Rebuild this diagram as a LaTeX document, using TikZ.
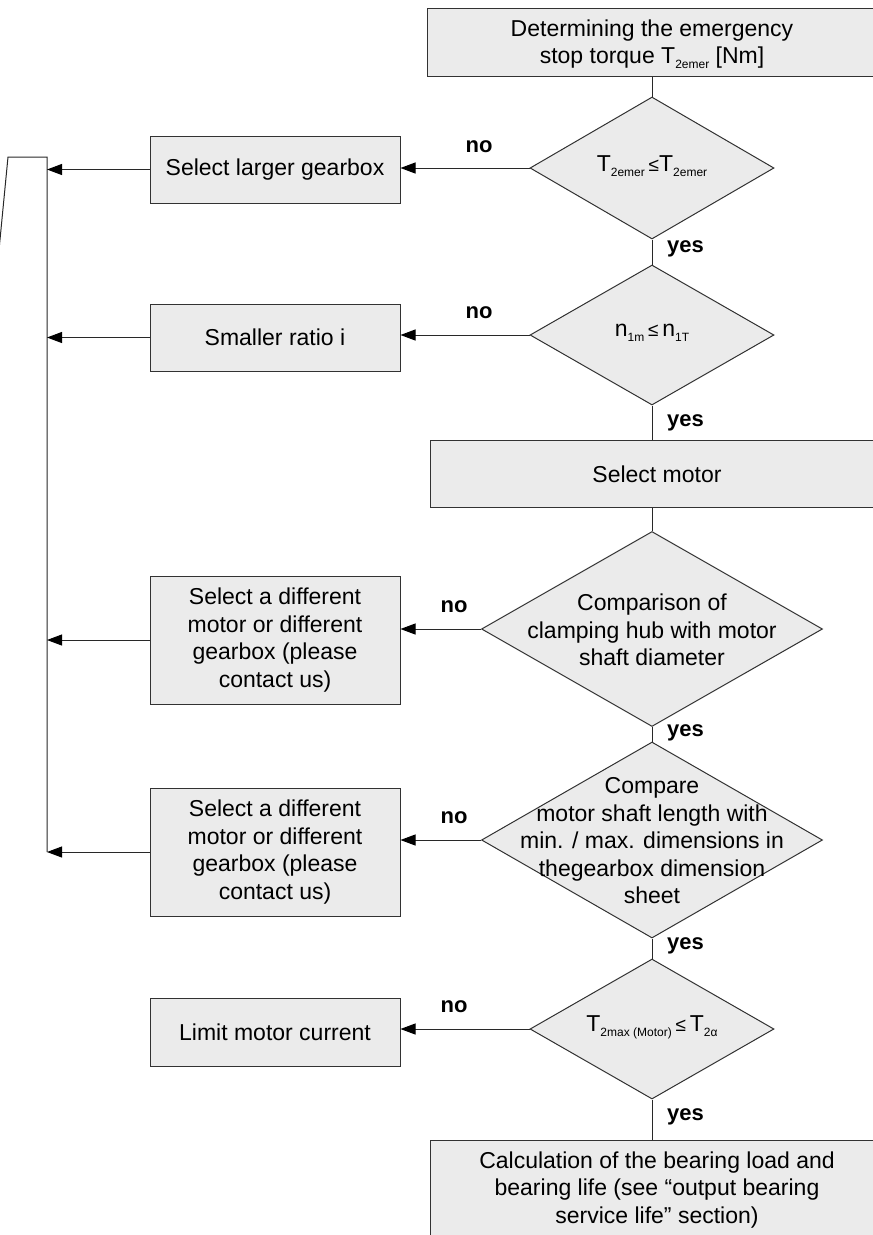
\documentclass[tikz,border=0pt]{standalone}
\usepackage{fontspec}
\setmainfont{Liberation Sans}
\usetikzlibrary{shapes.geometric,arrows.meta}
\definecolor{boxfill}{RGB}{235,235,235}
\definecolor{boxc}{RGB}{50,50,50}
\definecolor{linec}{RGB}{40,40,40}
\newcommand{\txtf}{\fontsize{23}{27.5}\selectfont}
\newcommand{\lblf}{\fontsize{22}{26}\selectfont\bfseries}
\newcommand{\sbs}[1]{\raisebox{-5pt}{\fontsize{12}{12}\selectfont #1}}
\newcommand{\leqs}{{\fontsize{19}{19}\selectfont ≤}}
\begin{document}
\begin{tikzpicture}[x=1pt,y=-1pt,
  conn/.style={draw=linec, line width=1pt},
  arr/.style={conn, -{Triangle[length=15pt,width=11pt,color=black]}},
  box/.style={draw=boxc, fill=boxfill, line width=1pt, inner sep=0pt, align=center, font=\txtf},
  dia/.style={diamond, draw=boxc, fill=boxfill, line width=1pt, inner sep=0pt},
  tx/.style={font=\txtf, align=center, inner sep=0pt},
  lbl/.style={font=\lblf, inner sep=0pt}]
\useasboundingbox (0,0) rectangle (873,1235);
\clip (0,0) rectangle (873,1235);

% right column boxes
\node[box, minimum width=475, minimum height=68, anchor=north west] (b0) at (427,8) {};
\node[tx] (t0) at (652,44) {Determining the emergency\\stop torque T\sbs{2emer} [Nm]};
\node[box, minimum width=475, minimum height=67, anchor=north west] (bm) at (430,440) {};
\node[tx] (tm) at (657,474) {Select motor};
\node[box, minimum width=475, minimum height=130, anchor=north west] (bl) at (430,1140) {};
\node[tx] (tl) at (657,1190) {Calculation of the bearing load and\\bearing life (see “output bearing\\service life” section)};

% diamonds
\node[dia, minimum width=244, minimum height=142] (d1) at (652,168) {};
\node[tx] (d1t) at (652,166) {T\sbs{2emer}\,\leqs T\sbs{2emer}};
\node[dia, minimum width=244, minimum height=140] (d2) at (652,335) {};
\node[tx] (d2t) at (652,333) {n\sbs{1m}\,\leqs\,n\sbs{1T}};
\node[dia, minimum width=341, minimum height=195] (d3) at (652,629) {};
\node[tx] (d3t) at (652,630) {Comparison of\\clamping hub with motor\\shaft diameter};
\node[dia, minimum width=341, minimum height=196] (d4) at (652,840) {};
\node[tx] (d4t) at (652,841) {Compare\\motor shaft length with\\min. / max. dimensions in\\thegearbox dimension\\sheet};
\node[dia, minimum width=244, minimum height=140] (d5) at (652,1029) {};
\node[tx] (d5t) at (652,1027) {T\sbs{2max (Motor)}\,\leqs\,T\sbs{2α}};

% left boxes
\node[box, minimum width=250, minimum height=67] (l1) at (275,169.5) {Select larger gearbox};
\node[box, minimum width=250, minimum height=67] (l2) at (275,337.5) {Smaller ratio i};
\node[box, minimum width=250, minimum height=128] (l3) at (275,640) {Select a different\\motor or different\\gearbox (please\\contact us)};
\node[box, minimum width=250, minimum height=128] (l4) at (275,852) {Select a different\\motor or different\\gearbox (please\\contact us)};
\node[box, minimum width=250, minimum height=68] (l5) at (275,1032) {Limit motor current};

% bus
\coordinate (bt) at (47,157);
\coordinate (bb) at (47,852);
\coordinate (s1) at (8,157);
\coordinate (s2) at (-1.2,252);
\draw[conn] (s2) -- (s1) -- (bt) -- (bb);

% vertical connectors
\draw[conn] (b0.south -| d1.north) -- (d1.north);
\draw[conn] (d1.south) -- (d2.north);
\draw[conn] (d2.south) -- (d2.south |- bm.north);
\draw[conn] (d3.north |- bm.south) -- (d3.north);
\draw[conn] (d3.south) -- (d4.north);
\draw[conn] (d4.south) -- (d5.north);
\draw[conn] (d5.south) -- (d5.south |- bl.north);

% no arrows
\draw[arr] (d1.west) -- (d1.west -| l1.east);
\draw[arr] (d2.west) -- (d2.west -| l2.east);
\draw[arr] (d3.west) -- (d3.west -| l3.east);
\draw[arr] (d4.west) -- (d4.west -| l4.east);
\draw[arr] (d5.west) -- (d5.west -| l5.east);

% to bus
\draw[arr] (l1.west) -- (l1.west -| bt);
\draw[arr] (l2.west) -- (l2.west -| bt);
\draw[arr] (l3.west) -- (l3.west -| bt);
\draw[arr] (l4.west) -- (l4.west -| bt);

% labels
\node[lbl] (n1) at (479,147) {no};
\node[lbl] (n2) at (479,313) {no};
\node[lbl] (n3) at (454,607) {no};
\node[lbl] (n4) at (454,818) {no};
\node[lbl] (n5) at (454,1007) {no};
\node[lbl, anchor=west] (y1) at (667,249) {yes};
\node[lbl, anchor=west] (y2) at (667,423) {yes};
\node[lbl, anchor=west] (y3) at (667,733) {yes};
\node[lbl, anchor=west] (y4) at (667,946) {yes};
\node[lbl, anchor=west] (y5) at (667,1117) {yes};
\end{tikzpicture}
\end{document}
